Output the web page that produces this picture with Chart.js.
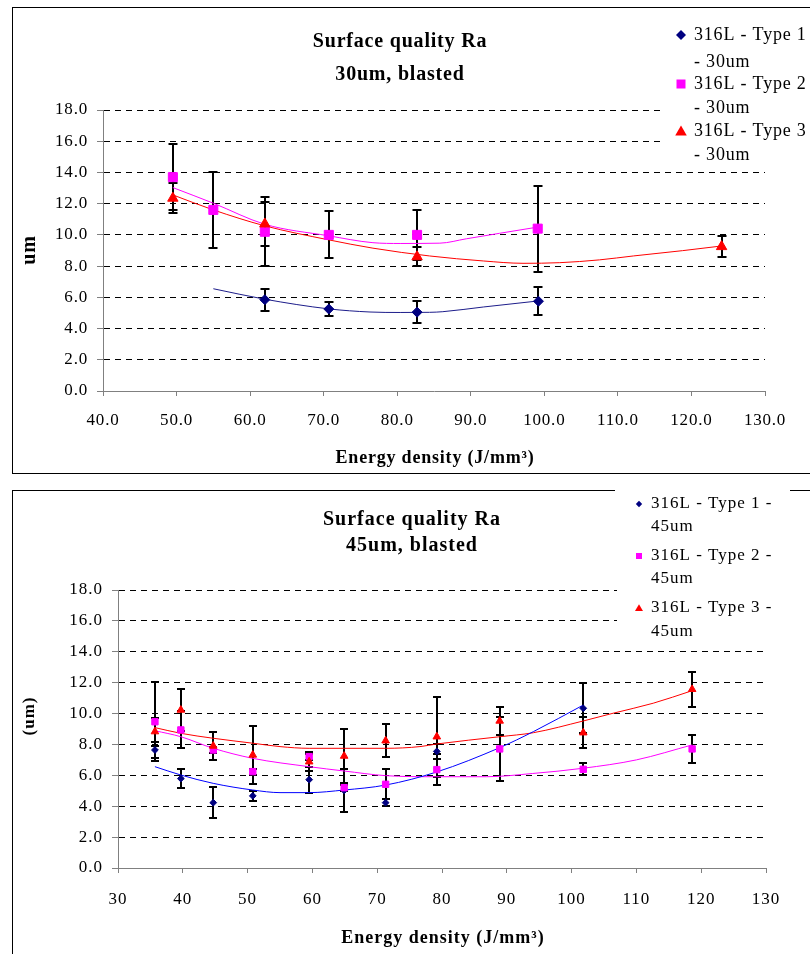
<!DOCTYPE html>
<html><head><meta charset="utf-8">
<script src="https://cdn.jsdelivr.net/npm/chart.js@4.4.1/dist/chart.umd.min.js"></script>
<style>
html,body{margin:0;padding:0;background:#fff;overflow:hidden;width:810px;height:954px;}
.box{position:absolute;border:1px solid #000;background:#fff;}
#b1{left:12px;top:7px;width:810px;height:465px;}
#b2{left:12px;top:490px;width:810px;height:470px;}
#gap{position:absolute;left:615px;top:490px;width:175px;height:1px;background:#fff;}
canvas{display:block;}
</style></head><body>
<div class="box" id="b1"><canvas id="c1" width="810" height="465"></canvas></div>
<div class="box" id="b2"><canvas id="c2" width="810" height="470"></canvas></div>
<div id="gap"></div>
<script>
// ---------- tick labels ----------
const yTickValues = [0, 2, 4, 6, 8, 10, 12, 14, 16, 18];
const yTickLabels = ['0.0', '2.0', '4.0', '6.0', '8.0', '10.0', '12.0', '14.0', '16.0', '18.0'];
const topXTickValues = [40, 50, 60, 70, 80, 90, 100, 110, 120, 130];
const topXTickLabels = ['40.0', '50.0', '60.0', '70.0', '80.0', '90.0', '100.0', '110.0', '120.0', '130.0'];
const botXTickValues = [30, 40, 50, 60, 70, 80, 90, 100, 110, 120, 130];
const botXTickLabels = ['30', '40', '50', '60', '70', '80', '90', '100', '110', '120', '130'];

// ---------- top chart (30um) ----------
const topX1 = [62.0, 70.7, 82.7, 99.2];
const topY1 = [5.85, 5.25, 5.05, 5.75];
const topE1 = [0.7, 0.45, 0.7, 0.9];
const topX2 = [49.5, 55.0, 62.0, 70.7, 82.7, 99.1];
const topY2 = [13.7, 11.6, 10.2, 10.0, 10.0, 10.4];
const topE2 = [2.1, 2.45, 2.2, 1.5, 1.6, 2.75];
const topX3 = [49.5, 62.0, 82.7, 124.1];
const topY3 = [12.35, 10.7, 8.6, 9.25];
const topE3 = [0.95, 1.4, 0.6, 0.67];
// trend lines
const topT1x = [55, 62, 70.7, 76.3, 80.4, 84.4, 86.2, 91.7, 99.2];
const topT1y = [6.55, 5.88, 5.26, 5.06, 5.03, 5.04, 5.08, 5.38, 5.77];
const topT2x = [49.5, 55, 62, 70.7, 76.7, 80.4, 85.8, 89.4, 93.9, 99.1];
const topT2y = [13.03, 12.03, 10.68, 9.94, 9.5, 9.45, 9.47, 9.75, 10.1, 10.5];
const topT3x = [49.5, 55, 62, 70.7, 76.7, 84.4, 91.7, 97.1, 102.1, 107.5, 112.1, 118.8, 124.1];
const topT3y = [12.56, 11.6, 10.58, 9.68, 9.15, 8.65, 8.33, 8.18, 8.22, 8.4, 8.65, 8.99, 9.29];

// ---------- bottom chart (45um) ----------
const botX = [35.7, 39.7, 44.7, 50.8, 59.5, 64.9, 71.3, 79.2, 88.9, 101.8, 118.6];
const botY1 = [7.64, 5.79, 4.23, 4.67, 5.72, 5.02, 4.23, 7.55, null, 10.34, null];
const botE1 = [0.5, 0.62, 1.02, 0.33, 0.84, 1.4, 0.22, 0.5, 0, 1.62, 0];
const botY2 = [9.47, 8.94, 7.64, 6.24, 7.21, 5.2, 5.42, 6.37, 7.71, 6.39, 7.71];
const botE2 = [2.55, 1.2, 0.2, 0.2, 0.2, 0.2, 0.98, 1.0, 2.05, 0.4, 0.9];
const botY3 = [8.83, 10.23, 7.9, 7.32, 6.88, 7.25, 8.24, 8.5, 9.52, 8.76, 11.57];
const botE3 = [0.9, 1.36, 0.88, 1.9, 0.6, 1.75, 1.06, 2.6, 0.93, 1.0, 1.13];
const botT1x = [35.7, 39.7, 44.7, 50.8, 55, 59.5, 64.9, 71.3, 79.2, 88.9, 94.1, 101.8];
const botT1y = [6.56, 6.02, 5.48, 5.05, 4.88, 4.88, 5.05, 5.37, 6.22, 7.79, 8.83, 10.55];
const botT2x = [35.7, 39.7, 44.7, 50.8, 59.5, 64.9, 71.3, 79.2, 86.9, 94.0, 101.8, 110.0, 118.6];
const botT2y = [8.89, 8.5, 7.75, 7.1, 6.56, 6.28, 5.98, 5.91, 5.91, 6.12, 6.46, 7.0, 7.97];
const botT3x = [35.7, 39.7, 44.7, 50.8, 55, 59.5, 64.9, 71.3, 76.6, 79.2, 88.9, 94.1, 101.8, 106.4, 112.6, 118.6];
const botT3y = [9.09, 8.72, 8.4, 8.08, 7.86, 7.75, 7.75, 7.75, 7.86, 8.03, 8.5, 8.76, 9.52, 10.02, 10.67, 11.48];

const topLegend = [['316L - Type 1', '- 30um'], ['316L - Type 2', '- 30um'], ['316L - Type 3', '- 30um']];
const botLegend = [['316L - Type 1 -', '45um'], ['316L - Type 2 -', '45um'], ['316L - Type 3 -', '45um']];

// ---------- helpers ----------
const FONT = "'Liberation Serif', 'Times New Roman', serif";
Chart.defaults.font.family = FONT;
Chart.defaults.color = '#000';

const pts = (xs, ys) => xs.map((x, i) => ({x: x, y: ys[i]}));

function markerSet(xs, ys, es, color, style, r, order) {
  return {data: pts(xs, ys), errors: es, showLine: false, pointStyle: style, pointRadius: r,
    pointHoverRadius: r, backgroundColor: color, borderColor: color, pointBorderWidth: 1, order: order};
}
function trendSet(xs, ys, color) {
  return {data: pts(xs, ys), showLine: true, pointRadius: 0, borderColor: color, borderWidth: 1,
    fill: false, cubicInterpolationMode: 'monotone', order: 10};
}

function drawMarker(ctx, style, x, y, s, color) {
  ctx.fillStyle = color;
  ctx.beginPath();
  if (style === 'rectRot') {
    ctx.moveTo(x, y - s); ctx.lineTo(x + s, y); ctx.lineTo(x, y + s); ctx.lineTo(x - s, y);
  } else if (style === 'rect') {
    ctx.rect(x - s, y - s, 2 * s, 2 * s);
  } else {
    ctx.moveTo(x, y - s); ctx.lineTo(x + s * 1.05, y + s * 0.8); ctx.lineTo(x - s * 1.05, y + s * 0.8);
  }
  ctx.closePath(); ctx.fill();
}

const errorBars = {
  id: 'errorBars',
  beforeDatasetsDraw(chart, args, opts) {
    const ctx = chart.ctx, xs = chart.scales.x, ys = chart.scales.y;
    ctx.save();
    ctx.strokeStyle = '#000';
    ctx.lineWidth = opts.width;
    chart.data.datasets.forEach(ds => {
      if (!ds.errors) return;
      ds.data.forEach((p, i) => {
        const e = ds.errors[i];
        if (p.y == null || !e) return;
        const x = Math.round(xs.getPixelForValue(p.x));
        const y1 = Math.round(ys.getPixelForValue(p.y + e));
        const y2 = Math.round(ys.getPixelForValue(p.y - e));
        ctx.beginPath();
        ctx.moveTo(x, y1); ctx.lineTo(x, y2);
        ctx.moveTo(x - opts.cap, y1); ctx.lineTo(x + opts.cap, y1);
        ctx.moveTo(x - opts.cap, y2); ctx.lineTo(x + opts.cap, y2);
        ctx.stroke();
      });
    });
    ctx.restore();
  }
};

function makeDecor(cfg) {
  return {
    id: 'decor',
    beforeDraw(chart) { chart.ctx.letterSpacing = cfg.spacing; },
    afterDraw(chart) {
      const ctx = chart.ctx;
      ctx.save();
      ctx.letterSpacing = cfg.spacing;
      ctx.fillStyle = '#fff';
      ctx.fillRect(cfg.legendBox[0], cfg.legendBox[1], cfg.legendBox[2], cfg.legendBox[3]);
      ctx.fillStyle = '#000';
      ctx.textAlign = 'center';
      ctx.textBaseline = 'middle';
      ctx.font = 'bold ' + cfg.titleSize + 'px ' + FONT;
      cfg.title.forEach((t, i) => ctx.fillText(t, cfg.titleX, cfg.titleY[i]));
      ctx.font = 'bold ' + cfg.axisSize + 'px ' + FONT;
      ctx.fillText(cfg.xTitle, cfg.xTitleX, cfg.xTitleY);
      ctx.save();
      ctx.translate(cfg.yTitleX, cfg.yTitleY);
      ctx.rotate(-Math.PI / 2);
      ctx.font = 'bold ' + cfg.ySize + 'px ' + FONT;
      ctx.fillText(cfg.yTitle, 0, 0);
      ctx.restore();
      // legend
      ctx.textAlign = 'left';
      ctx.font = cfg.legendSize + 'px ' + FONT;
      cfg.legend.forEach((lines, i) => {
        const m = cfg.markers[i];
        drawMarker(ctx, m.style, cfg.markerX, cfg.rows[2 * i], m.s, m.color);
        ctx.fillStyle = '#000';
        ctx.fillText(lines[0], cfg.textX, cfg.rows[2 * i]);
        ctx.fillText(lines[1], cfg.textX, cfg.rows[2 * i + 1]);
      });
      ctx.restore();
    }
  };
}

function scales(xVals, xLabels, xmin, xmax, yw, xh, xpad) {
  return {
    x: {
      type: 'linear', min: xmin, max: xmax,
      afterBuildTicks: s => { s.ticks = xVals.map(v => ({value: v})); },
      afterFit: s => { s.height = xh; },
      ticks: {callback: (v, i) => xLabels[i], padding: xpad, font: {size: 17}, color: '#000',
        autoSkip: false, maxRotation: 0},
      grid: {drawOnChartArea: false, tickLength: 5, tickColor: '#808080', color: '#808080'},
      border: {color: '#808080', width: 1}
    },
    y: {
      type: 'linear', min: 0, max: 18,
      afterBuildTicks: s => { s.ticks = yTickValues.map(v => ({value: v})); },
      afterFit: s => { s.width = yw; },
      ticks: {callback: (v, i) => yTickLabels[i], padding: 9, font: {size: 17}, color: '#000'},
      grid: {color: c => (c.tick && c.tick.value === 0) ? 'rgba(0,0,0,0)' : '#000', lineWidth: 1,
        tickLength: 6, tickColor: '#808080'},
      border: {color: '#808080', width: 1, dash: [6, 5]}
    }
  };
}

const common = {
  responsive: false, animation: false, devicePixelRatio: 1,
  plugins: {legend: {display: false}, tooltip: {enabled: false}, errorBars: {width: 2, cap: 4.5}},
  events: []
};

// ---------- top chart ----------
new Chart(document.getElementById('c1'), {
  type: 'scatter',
  data: {datasets: [
    trendSet(topT1x, topT1y, '#1c1c8a'),
    trendSet(topT2x, topT2y, '#FF00FF'),
    trendSet(topT3x, topT3y, '#FF0000'),
    markerSet(topX1, topY1, topE1, '#000080', 'rectRot', 5, 3),
    markerSet(topX2, topY2, topE2, '#FF00FF', 'rect', 6.4, 2),
    markerSet(topX3, topY3, topE3, '#FF0000', 'triangle', 6, 1)
  ]},
  options: Object.assign({}, common, {
    layout: {padding: {left: 0, top: 102, right: 58, bottom: 0}},
    scales: scales(topXTickValues, topXTickLabels, 40, 130, 90, 82, 14)
  }),
  plugins: [errorBars, makeDecor({
    spacing: '0.8px',
    legendBox: [652, 0, 160, 157],
    title: ['Surface quality Ra', '30um, blasted'], titleX: 387, titleY: [34, 67], titleSize: 20,
    xTitle: 'Energy density (J/mm\u00B3)', xTitleX: 422, xTitleY: 450, axisSize: 18,
    yTitle: 'um', yTitleX: 17, yTitleY: 242, ySize: 20,
    legend: topLegend, legendSize: 18, markerX: 668, textX: 681, rows: [27, 54, 76, 100, 123, 147],
    markers: [{style: 'rectRot', s: 5, color: '#000080'}, {style: 'rect', s: 4.5, color: '#FF00FF'},
      {style: 'triangle', s: 5.5, color: '#FF0000'}]
  })]
});

// ---------- bottom chart ----------
new Chart(document.getElementById('c2'), {
  type: 'scatter',
  data: {datasets: [
    trendSet(botT1x, botT1y, '#0000FF'),
    trendSet(botT2x, botT2y, '#FF00FF'),
    trendSet(botT3x, botT3y, '#FF0000'),
    markerSet(botX, botY1, botE1, '#000080', 'rectRot', 3.4, 3),
    markerSet(botX, botY2, botE2, '#FF00FF', 'rect', 4.5, 2),
    markerSet(botX, botY3, botE3, '#FF0000', 'triangle', 4.4, 1)
  ]},
  options: Object.assign({}, common, {
    layout: {padding: {left: 0, top: 99, right: 57, bottom: 0}},
    scales: scales(botXTickValues, botXTickLabels, 30, 130, 105, 93, 16),
    plugins: {legend: {display: false}, tooltip: {enabled: false}, errorBars: {width: 2, cap: 4}}
  }),
  plugins: [errorBars, makeDecor({
    spacing: '1px',
    legendBox: [604, 0, 180, 149],
    title: ['Surface quality Ra', '45um, blasted'], titleX: 399, titleY: [29, 55], titleSize: 20,
    xTitle: 'Energy density (J/mm\u00B3)', xTitleX: 430, xTitleY: 447, axisSize: 18,
    yTitle: '(um)', yTitleX: 17, yTitleY: 225, ySize: 17,
    legend: botLegend, legendSize: 17, markerX: 626, textX: 638, rows: [13, 36, 65, 88, 117, 141],
    markers: [{style: 'rectRot', s: 3.2, color: '#000080'}, {style: 'rect', s: 3, color: '#FF00FF'},
      {style: 'triangle', s: 3.8, color: '#FF0000'}]
  })]
});
</script>
</body></html>
